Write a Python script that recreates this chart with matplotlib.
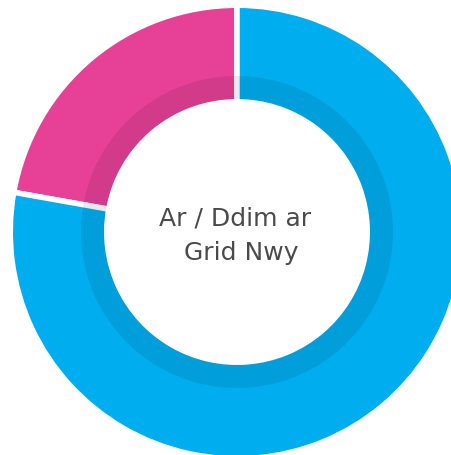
import matplotlib.pyplot as plt
from matplotlib.patches import Wedge

# share of each category
labels = ['Ar', 'Ddim ar Grid Nwy']
shares = [22.2, 77.8]
colors = ['#E64196', '#00AEEF']
center_lines = ['Ar / Ddim ar', 'Grid Nwy']

W, H = 452, 455
fig = plt.figure(figsize=(W / 100, H / 100), dpi=100)
ax = fig.add_axes([0, 0, 1, 1])

cx, cy = 237, H - 232
r_out, r_in = 224, 133
gap = 5.5  # px, white separator

ax.pie(shares, colors=colors, startangle=90, counterclock=True,
       center=(cx, cy), radius=r_out + gap / 2, frame=True,
       wedgeprops=dict(width=(r_out - r_in) + gap, edgecolor='white',
                       linewidth=gap * 0.72))
ax.set_xlim(0, W)
ax.set_ylim(0, H)
ax.set_aspect('equal')
ax.axis('off')

# darker inner band laid over both slices
ax.add_patch(Wedge((cx, cy), 156, 0, 360, width=156 - r_in,
                   facecolor='black', alpha=0.085, edgecolor='none'))

ax.text(235, H - 218, center_lines[0], ha='center', va='center',
        fontsize=18, color='#4a4a4a', family='DejaVu Sans')
ax.text(241, H - 253, center_lines[1], ha='center', va='center',
        fontsize=18, color='#4a4a4a', family='DejaVu Sans')

fig.savefig('out.png', dpi=100, facecolor='white')
